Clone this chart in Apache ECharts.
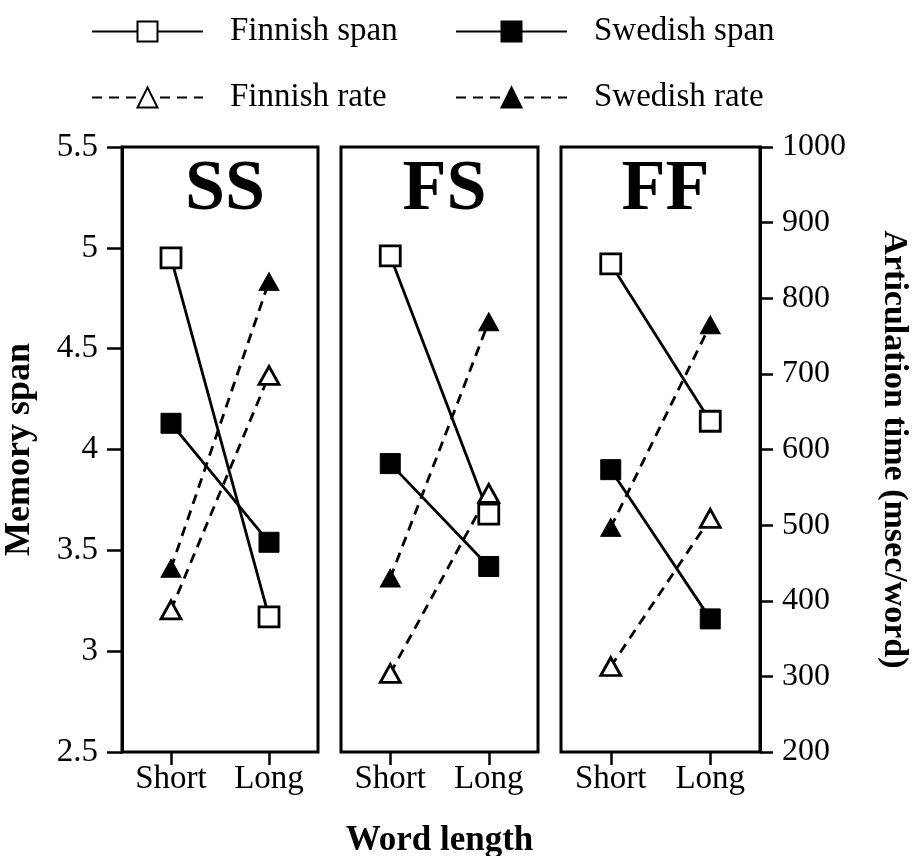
<!DOCTYPE html>
<html>
<head>
<meta charset="utf-8">
<style>
  html, body { margin: 0; padding: 0; background: #fff; }
  #chart { width: 918px; height: 856px; }
</style>
<script src="https://cdn.jsdelivr.net/npm/echarts@6/dist/echarts.min.js"></script>
</head>
<body>
<div id="chart"></div>
<script>
// Word-length effect: memory span (left axis) and articulation time (right axis)
const categories = ['Short', 'Long'];
const panels = ['SS', 'FS', 'FF'];

// memory span, one [Short, Long] pair per panel
const finnishSpan = [[4.95, 3.17], [4.96, 3.68], [4.92, 4.14]];
const swedishSpan = [[4.13, 3.54], [3.93, 3.42], [3.90, 3.16]];

// articulation time in msec/word, one [Short, Long] pair per panel
const finnishRate = [[388, 698], [304, 542], [313, 509]];
const swedishRate = [[443, 822], [430, 769], [497, 765]];

// axis ranges
const spanRange = { min: 2.5, max: 5.5, interval: 0.5 };
const rateRange = { min: 200, max: 1000, interval: 100 };

const FONT = "'Liberation Serif', 'DejaVu Serif', serif";
const gridLefts = [122, 341, 561];
const gridWidths = [196, 197, 199];
const TOP = 147, HEIGHT = 605;

const grids = panels.map((p, i) => ({
  left: gridLefts[i], top: TOP, width: gridWidths[i], height: HEIGHT,
  outerBoundsMode: 'none', containLabel: false,
  show: true, borderColor: '#000', borderWidth: 3, backgroundColor: 'transparent'
}));

const xAxes = panels.map((p, i) => ({
  type: 'category', gridIndex: i, data: categories, boundaryGap: true,
  axisLine: { show: false },
  axisTick: { show: true, alignWithLabel: true, length: 13, lineStyle: { color: '#000', width: 2.5 } },
  axisLabel: { color: '#000', fontFamily: FONT, fontSize: 33, margin: 11 },
  name: i === 1 ? 'Word length' : '',
  nameLocation: 'middle', nameGap: 71,
  nameTextStyle: { color: '#000', fontFamily: FONT, fontSize: 35, fontWeight: 'bold' }
}));

const spanAxes = panels.map((p, i) => ({
  type: 'value', gridIndex: i, position: 'left',
  min: spanRange.min, max: spanRange.max, interval: spanRange.interval,
  show: i === 0,
  splitLine: { show: false },
  axisLine: { show: true, lineStyle: { color: '#000', width: 3 } },
  axisTick: { show: true, length: 15, lineStyle: { color: '#000', width: 2.5 } },
  axisLabel: { color: '#000', fontFamily: FONT, fontSize: 33, margin: 24 },
  name: 'Memory span', nameLocation: 'middle', nameRotate: 90, nameGap: 84,
  nameTextStyle: { color: '#000', fontFamily: FONT, fontSize: 36, fontWeight: 'bold' }
}));

const rateAxes = panels.map((p, i) => ({
  type: 'value', gridIndex: i, position: 'right',
  min: rateRange.min, max: rateRange.max, interval: rateRange.interval,
  show: i === 2,
  splitLine: { show: false },
  axisLine: { show: true, lineStyle: { color: '#000', width: 3 } },
  axisTick: { show: true, length: 13, lineStyle: { color: '#000', width: 2.5 } },
  axisLabel: { color: '#000', fontFamily: FONT, fontSize: 32, margin: 22, formatter: v => String(v) },
  name: 'Articulation time (msec/word)', nameLocation: 'middle', nameRotate: -90, nameGap: 117,
  nameTextStyle: { color: '#000', fontFamily: FONT, fontSize: 34, fontWeight: 'bold' }
}));

const solid = { color: '#000', width: 2.8, type: 'solid' };
const dashed = { color: '#000', width: 2.8, type: [10, 7] };
const openMark = { color: '#fff', borderColor: '#000', borderWidth: 2.8 };
const fillMark = { color: '#000', borderColor: '#000', borderWidth: 1 };

const series = [];
panels.forEach((p, i) => {
  const base = { type: 'line', xAxisIndex: i, z: 3, animation: false };
  series.push(Object.assign({}, base, {
    name: 'Finnish span', yAxisIndex: i, data: finnishSpan[i],
    symbol: 'rect', symbolSize: 20, lineStyle: solid, itemStyle: openMark
  }));
  series.push(Object.assign({}, base, {
    name: 'Swedish span', yAxisIndex: i, data: swedishSpan[i],
    symbol: 'rect', symbolSize: 20, lineStyle: solid, itemStyle: fillMark
  }));
  series.push(Object.assign({}, base, {
    name: 'Finnish rate', yAxisIndex: 3 + i, data: finnishRate[i],
    symbol: 'triangle', symbolSize: [20, 18], lineStyle: dashed, itemStyle: openMark
  }));
  series.push(Object.assign({}, base, {
    name: 'Swedish rate', yAxisIndex: 3 + i, data: swedishRate[i],
    symbol: 'triangle', symbolSize: [20, 18], lineStyle: dashed, itemStyle: fillMark
  }));
});

function legendItem(name, left, top) {
  return {
    data: [name], left: left, top: top, orient: 'horizontal',
    itemWidth: 111, itemHeight: 25, selectedMode: false,
    textStyle: { color: '#000', fontFamily: FONT, fontSize: 33, padding: [0, 0, 0, 22] }
  };
}

const titles = panels.map((p, i) => ({
  text: p, left: gridLefts[i] + gridWidths[i] / 2, top: 149, textAlign: 'center',
  textStyle: { color: '#000', fontFamily: FONT, fontSize: 72, fontWeight: 'bold' }
}));

const chart = echarts.init(document.getElementById('chart'), null, { renderer: 'canvas' });
chart.setOption({
  backgroundColor: '#fff',
  animation: false,
  title: titles,
  legend: [
    legendItem('Finnish span', 86, 10),
    legendItem('Swedish span', 450, 10),
    legendItem('Finnish rate', 86, 76),
    legendItem('Swedish rate', 450, 76)
  ],
  grid: grids,
  xAxis: xAxes,
  yAxis: spanAxes.concat(rateAxes),
  series: series
});
</script>
</body>
</html>
